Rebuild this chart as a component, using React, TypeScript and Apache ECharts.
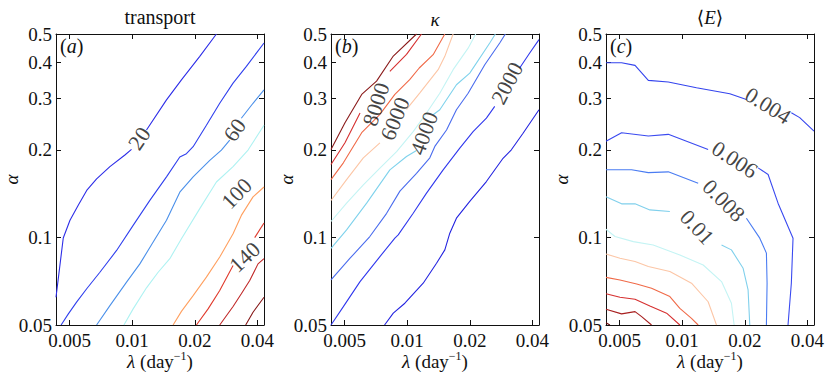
import React, { useEffect, useRef } from 'react';
import * as echarts from 'echarts';

type Pt = [number, number] | null;

// ---- axes ----
const LAMBDA_RANGE = [0.0043, 0.043];
const ALPHA_RANGE = [0.05, 0.5];
const LAMBDA_TICKS = [0.005, 0.01, 0.02, 0.04];
const ALPHA_TICKS = [0.05, 0.1, 0.2, 0.3, 0.4, 0.5];
const PANEL_TAGS = ['a', 'b', 'c'];

// ---- panel (a): transport, levels 20..180 (100 is white) ----
const transportLevels = [20, 40, 60, 80, 120, 140, 160, 180];
const t20: Pt[] = [[0.0043, 0.0623], [0.00466, 0.0995], [0.00502, 0.1145], [0.0055, 0.129], [0.00604, 0.145], [0.00674, 0.159], [0.00781, 0.175], [0.00922, 0.192], [0.00992, 0.2006], null, [0.01171, 0.234], [0.01461, 0.297], [0.01724, 0.348], [0.02112, 0.419], [0.02539, 0.5]];
const t40: Pt[] = [[0.00455, 0.05], [0.00493, 0.0546], [0.0054, 0.0599], [0.00604, 0.0666], [0.00699, 0.0759], [0.00841, 0.0902], [0.0101, 0.11], [0.01215, 0.134], [0.01461, 0.1615], [0.01693, 0.189], [0.01822, 0.194], [0.01962, 0.205], [0.02273, 0.243], [0.02634, 0.289], [0.03053, 0.339], [0.03538, 0.387], [0.043, 0.4655]];
const t60: Pt[] = [[0.00674, 0.05], [0.00781, 0.0583], [0.00939, 0.0702], [0.01088, 0.0811], [0.01261, 0.0964], [0.01461, 0.1145], [0.01693, 0.143], [0.01962, 0.1615], [0.02359, 0.184], [0.02683, 0.1996], [0.02942, 0.216], null, [0.03346, 0.2567], [0.03808, 0.289], [0.043, 0.3215]];
const t80: Pt[] = [[0.00912, 0.05], [0.0101, 0.0568], [0.01171, 0.0671], [0.01332, 0.0759], [0.01516, 0.0845], [0.01724, 0.099], [0.02112, 0.1256], [0.02539, 0.155], [0.03053, 0.175], [0.03604, 0.1996], [0.043, 0.243]];
const t120: Pt[] = [[0.01572, 0.05], [0.01724, 0.0557], [0.01962, 0.0631], [0.02273, 0.073], [0.02634, 0.0856], [0.03053, 0.103], [0.03346, 0.119], [0.03808, 0.1378], [0.043, 0.149]];
const t140: Pt[] = [[0.02035, 0.05], [0.02316, 0.0568], [0.02634, 0.0657], [0.03053, 0.0801], null, [0.0388, 0.0998], [0.043, 0.112]];
const t160: Pt[] = [[0.02634, 0.05], [0.03053, 0.0579], [0.03346, 0.064], [0.03671, 0.0711], [0.04024, 0.0811], [0.043, 0.0845]];
const t180: Pt[] = [[0.03511, 0.05], [0.03808, 0.0553], [0.043, 0.0623]];
const transportLines = [t20, t40, t60, t80, t120, t140, t160, t180];
const transportColors = ['#2d2de8', '#3040ee', '#4b90ea', '#aef2f2', '#ffa060', '#e03a2c', '#c02828', '#861818'];
const transportLabelText = ['20', '60', '100', '140'];
const transportLabelPos: [number, number][] = [[0.0108, 0.219], [0.0311, 0.234], [0.0317, 0.1415], [0.03472, 0.0856]];
const transportLabelRot = [56, 55, 46, 43];

// ---- panel (b): kappa, levels 1000..9000 ----
const kappaLevels = [1000, 2000, 3000, 4000, 5000, 6000, 7000, 8000, 9000];
const k1000: Pt[] = [[0.00778, 0.05], [0.00857, 0.0549], [0.00974, 0.0594], [0.01193, 0.0696], [0.01383, 0.0815], [0.01516, 0.0906], [0.01602, 0.1034], [0.01724, 0.1164], [0.01998, 0.1329], [0.02402, 0.1556], [0.02888, 0.187], [0.03167, 0.2], [0.03604, 0.228], [0.043, 0.2745]];
const k2000: Pt[] = [[0.0043, 0.05], [0.00493, 0.0578], [0.00593, 0.0705], [0.00739, 0.0859], [0.00872, 0.0994], [0.00905, 0.102], [0.01068, 0.121], [0.01238, 0.1419], [0.01488, 0.1707], [0.01789, 0.2027], [0.02073, 0.231], [0.02402, 0.257], [0.02634, 0.2819], null, [0.03472, 0.382], [0.0388, 0.43], [0.043, 0.478]];
const k3000: Pt[] = [[0.0043, 0.0714], [0.00531, 0.0848], [0.00661, 0.1007], [0.00796, 0.121], [0.00922, 0.1442], [0.01108, 0.166], [0.01284, 0.1877], [0.01357, 0.2054], [0.01545, 0.234], [0.01724, 0.2745], [0.01962, 0.313], [0.02359, 0.392], [0.02784, 0.4655], [0.02963, 0.5]];
const k4000: Pt[] = [[0.0043, 0.0917], [0.00511, 0.1061], [0.00638, 0.1311], [0.00825, 0.1707], [0.00992, 0.1897], [0.01108, 0.199], null, [0.01332, 0.2639], [0.01434, 0.2745], [0.01724, 0.3346], [0.01998, 0.367], [0.02493, 0.4655], [0.02653, 0.5]];
const k5000: Pt[] = [[0.0043, 0.1134], [0.00511, 0.1311], [0.00615, 0.1516], [0.00739, 0.173], [0.00889, 0.197], [0.01068, 0.231], [0.01238, 0.2675], [0.01434, 0.313], [0.01662, 0.377], [0.01962, 0.447], [0.02135, 0.5]];
const k6000: Pt[] = [[0.0043, 0.1339], [0.00511, 0.158], [0.00615, 0.1877], [0.00739, 0.2114], null, [0.00992, 0.2753], [0.0115, 0.314], [0.01408, 0.377], [0.01516, 0.419], [0.01662, 0.5]];
const k7000: Pt[] = [[0.0043, 0.158], [0.00493, 0.1804], [0.00604, 0.229], [0.00739, 0.2646], [0.00872, 0.31], [0.0103, 0.349], [0.01142, 0.382], [0.01332, 0.4245], [0.01516, 0.5]];
const k8000: Pt[] = [[0.0043, 0.178], [0.00502, 0.2114], [0.00593, 0.2675], null, [0.00825, 0.372], [0.00992, 0.4256], [0.01171, 0.5]];
const k9000: Pt[] = [[0.0043, 0.2005], [0.00502, 0.2477], [0.00604, 0.31], [0.00712, 0.3445], [0.00857, 0.42], [0.01108, 0.5]];
const kappaLines = [k1000, k2000, k3000, k4000, k5000, k6000, k7000, k8000, k9000];
const kappaColors = ['#2424e0', '#3038ee', '#4a6cee', '#7fd2ec', '#c4f4f4', '#fcc6a6', '#f06a48', '#d63030', '#8a1a1a'];
const kappaLabelText = ['8000', '6000', '4000', '2000'];
const kappaLabelPos: [number, number][] = [[0.00707, 0.2865], [0.00872, 0.2557], [0.01202, 0.228], [0.0302, 0.339]];
const kappaLabelRot = [72, 68, 70, 62];

// ---- panel (c): <E>, levels 0.004..0.024 ----
const energyLevels = [0.004, 0.006, 0.008, 0.01, 0.012, 0.016, 0.018, 0.02, 0.022, 0.024];
const e004: Pt[] = [[0.0043, 0.3985], [0.00511, 0.3985], [0.00593, 0.39], [0.00687, 0.3465], [0.00857, 0.342], [0.01171, 0.327], [0.01693, 0.3116], [0.02035, 0.298], null, [0.03346, 0.268], [0.03671, 0.258], [0.043, 0.232]];
const e006: Pt[] = [[0.0043, 0.214], [0.00511, 0.229], [0.00687, 0.223], [0.00857, 0.226], [0.01332, 0.2005], null, [0.02316, 0.1734], [0.02587, 0.1645], [0.02888, 0.1311], [0.03409, 0.0994], [0.03346, 0.0696], [0.03225, 0.05]];
const e008: Pt[] = [[0.0043, 0.1707], [0.00571, 0.1707], [0.00687, 0.167], [0.00857, 0.168], [0.01193, 0.1535], null, [0.02035, 0.1164], [0.02359, 0.0994], [0.02539, 0.0883], [0.02558, 0.0696], [0.02539, 0.05]];
const e010: Pt[] = [[0.0043, 0.138], [0.00511, 0.1304], [0.00593, 0.1304], [0.00699, 0.1243], [0.00872, 0.1228], null, [0.01545, 0.0942], [0.01724, 0.0906], [0.01962, 0.0783], [0.02073, 0.066], [0.02112, 0.05]];
const e012: Pt[] = [[0.0043, 0.1067], [0.00475, 0.1007], [0.00582, 0.0967], [0.00725, 0.0942], [0.00974, 0.087], [0.01261, 0.0804], [0.01545, 0.0705], [0.01724, 0.0594], [0.01776, 0.05]];
const e016: Pt[] = [[0.0043, 0.0877], [0.00502, 0.0848], [0.00593, 0.0826], [0.00687, 0.0794], [0.00872, 0.0763], [0.01108, 0.0696], [0.01332, 0.0601], [0.01461, 0.05]];
const e018: Pt[] = [[0.0043, 0.0729], [0.00502, 0.0714], [0.00604, 0.0692], [0.00712, 0.0669], [0.00872, 0.0626], [0.00974, 0.057], [0.01108, 0.0527], [0.01193, 0.05]];
const e020: Pt[] = [[0.0043, 0.064], [0.00502, 0.0623], [0.00593, 0.0613], [0.00699, 0.0581], [0.00841, 0.0549], [0.00974, 0.05]];
const e022: Pt[] = [[0.0043, 0.0566], [0.00511, 0.0546], [0.00593, 0.0556], [0.00638, 0.0534], [0.00712, 0.05]];
const e024: Pt[] = [[0.0043, 0.0509], [0.00449, 0.05]];
const energyLines = [e004, e006, e008, e010, e012, e016, e018, e020, e022, e024];
const energyColors = ['#3444ee', '#3a4af0', '#4a7cf2', '#80d0ec', '#c4f4f4', '#fcc6a6', '#f06a48', '#d63030', '#a82020', '#6e0e0e'];
const energyLabelText = ['0.004', '0.006', '0.008', '0.01'];
const energyLabelPos: [number, number][] = [[0.02587, 0.284], [0.01789, 0.1853], [0.01584, 0.1339], [0.0118, 0.1084]];
const energyLabelRot = [-32, -33, -45, -47];

const SERIF = 'Liberation Serif';
const lg = (v: number) => Math.log10(v);

function splitSegments(line: Pt[]): number[][][] {
  const segs: number[][][] = [];
  let cur: number[][] = [];
  for (const p of line) {
    if (p === null) {
      if (cur.length) segs.push(cur);
      cur = [];
    } else {
      cur.push([lg(p[0]), lg(p[1])]);
    }
  }
  if (cur.length) segs.push(cur);
  return segs;
}

const fmt = (v: number) => String(Number(Math.pow(10, v).toPrecision(2)));

export default function App() {
  const ref = useRef<HTMLDivElement>(null);
  useEffect(() => {
    if (!ref.current) return;
    const chart = echarts.init(ref.current, undefined, { renderer: 'svg' });
    const lefts = [56, 331, 606];
    const top = 34;
    const width = 208;
    const height = 291;
    const grids: any[] = [];
    const xAxes: any[] = [];
    const yAxes: any[] = [];
    const series: any[] = [];
    const graphics: any[] = [];

    const xTicks = LAMBDA_TICKS.map(lg);
    const yTicks = ALPHA_TICKS.map(lg);
    const axisLine = { onZero: false, lineStyle: { color: '#111', width: 1 } };

    const panels = [
      { lines: transportLines, colors: transportColors, lt: transportLabelText, lp: transportLabelPos, lr: transportLabelRot },
      { lines: kappaLines, colors: kappaColors, lt: kappaLabelText, lp: kappaLabelPos, lr: kappaLabelRot },
      { lines: energyLines, colors: energyColors, lt: energyLabelText, lp: energyLabelPos, lr: energyLabelRot },
    ];

    panels.forEach((pn, i) => {
      grids.push({ left: lefts[i], top, width, height, containLabel: false, outerBoundsMode: 'none' });
      const xBase = {
        type: 'value', gridIndex: i, min: lg(LAMBDA_RANGE[0]), max: lg(LAMBDA_RANGE[1]),
        axisLine, splitLine: { show: false },
        axisTick: { inside: true, length: 5, customValues: xTicks, lineStyle: { color: '#111' } },
      };
      xAxes.push({
        ...xBase, position: 'bottom',
        axisLabel: { customValues: xTicks, formatter: fmt, margin: 6, fontSize: 19, fontFamily: SERIF, color: '#111' },
        name: '{i|λ}{n|\u00a0(day}{s|−1}{n|)}', nameLocation: 'middle', nameGap: 25,
        nameMoveOverlap: false,
        nameTextStyle: {
          fontFamily: SERIF,
          rich: {
            i: { fontSize: 19, fontFamily: SERIF, fontStyle: 'italic', color: '#111', lineHeight: 22 },
            n: { fontSize: 19, fontFamily: SERIF, color: '#111', lineHeight: 22 },
            s: { fontSize: 12, fontFamily: SERIF, color: '#111', verticalAlign: 'top', lineHeight: 12 },
          },
        },
      });
      xAxes.push({ ...xBase, position: 'top', axisLabel: { show: false } });
      const yBase = {
        type: 'value', gridIndex: i, min: lg(ALPHA_RANGE[0]), max: lg(ALPHA_RANGE[1]),
        axisLine, splitLine: { show: false },
        axisTick: { inside: true, length: 5, customValues: yTicks, lineStyle: { color: '#111' } },
      };
      yAxes.push({
        ...yBase, position: 'left',
        axisLabel: { customValues: yTicks, formatter: fmt, margin: 4, fontSize: 19, fontFamily: SERIF, color: '#111' },
        name: 'α', nameLocation: 'middle', nameGap: 35, nameRotate: 90,
        nameMoveOverlap: false,
        nameTextStyle: { fontSize: 19, fontFamily: SERIF, fontStyle: 'italic', color: '#111' },
      });
      yAxes.push({ ...yBase, position: 'right', axisLabel: { show: false } });

      const xi = i * 2;
      const yi = i * 2;
      pn.lines.forEach((line, li) => {
        splitSegments(line).forEach((seg) => {
          series.push({
            type: 'line', xAxisIndex: xi, yAxisIndex: yi, data: seg,
            symbol: 'none', showSymbol: false, silent: true, clip: true,
            lineStyle: { color: pn.colors[li], width: 1.1 },
            z: 2,
          });
        });
      });
      series.push({
        type: 'scatter', xAxisIndex: xi, yAxisIndex: yi, symbolSize: 1, silent: true, z: 5,
        itemStyle: { color: 'rgba(0,0,0,0)' },
        data: pn.lt.map((t, k) => ({
          name: t, value: [lg(pn.lp[k][0]), lg(pn.lp[k][1])],
          label: { rotate: pn.lr[k] },
        })),
        label: {
          show: true, position: 'inside', formatter: (p: any) => p.name,
          fontSize: 22, fontFamily: SERIF, color: '#111',
        },
      });

      // panel tag (a)/(b)/(c)
      graphics.push({
        type: 'text', x: lefts[i] + 4, y: 46,
        style: {
          text: '{p|(}{t|' + PANEL_TAGS[i] + '}{p|)}',
          textVerticalAlign: 'middle',
          fontFamily: SERIF,
          rich: {
            p: { fontSize: 20, fontFamily: SERIF, fill: '#111' },
            t: { fontSize: 20, fontFamily: SERIF, fontStyle: 'italic', fill: '#111' },
          },
        },
      });
    });

    // panel titles
    const cx = lefts.map((l) => l + width / 2);
    graphics.push({
      type: 'text', x: cx[0], y: 17,
      style: { text: 'transport', textAlign: 'center', textVerticalAlign: 'middle', fontSize: 20, fontFamily: SERIF, fill: '#111' },
    });
    graphics.push({
      type: 'text', x: cx[1], y: 19,
      style: { text: 'κ', textAlign: 'center', textVerticalAlign: 'middle', fontSize: 19, fontStyle: 'italic', fontFamily: SERIF, fill: '#111' },
    });
    graphics.push({
      type: 'text', x: cx[2], y: 17,
      style: {
        text: '{p|⟨}{e|E}{p|⟩}', textAlign: 'center', textVerticalAlign: 'middle',
        fontFamily: SERIF,
        rich: {
          p: { fontSize: 19, fontFamily: 'DejaVu Serif', fill: '#111' },
          e: { fontSize: 19, fontFamily: SERIF, fontStyle: 'italic', fill: '#111' },
        },
      },
    });

    chart.setOption({
      animation: false,
      backgroundColor: '#fff',
      textStyle: { fontFamily: SERIF },
      grid: grids,
      xAxis: xAxes,
      yAxis: yAxes,
      series,
      graphic: graphics,
    });
    return () => chart.dispose();
  }, []);
  return <div ref={ref} style={{ position: 'absolute', left: 0, top: 0, width: 830, height: 376 }} />;
}
